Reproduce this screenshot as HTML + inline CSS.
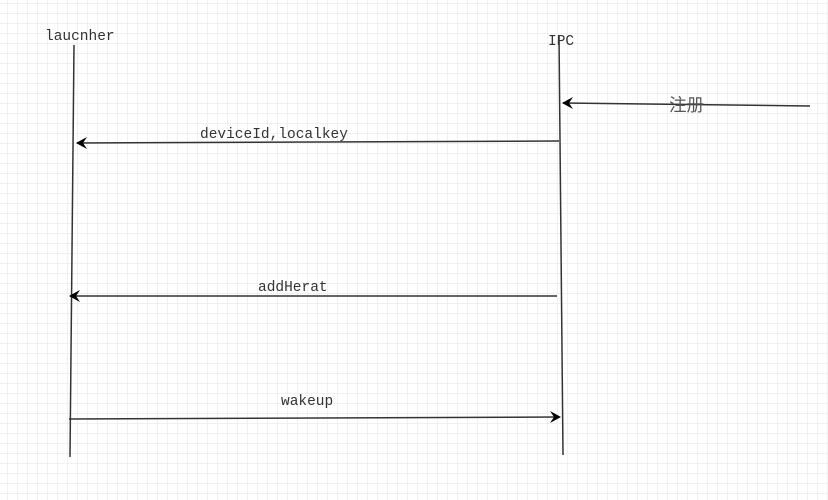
<!DOCTYPE html>
<html><head><meta charset="utf-8"><style>
html,body{margin:0;padding:0;background:#fff;}
svg{display:block;}
text{font-family:"Liberation Mono","Noto Sans CJK SC",monospace;font-size:14.5px;fill:#333;}
</style></head><body>
<svg width="828" height="500" viewBox="0 0 828 500" xmlns="http://www.w3.org/2000/svg">
<defs>
<pattern id="g" x="7" y="3" width="10" height="10" patternUnits="userSpaceOnUse">
<path d="M0 0H10M0 0V10" stroke="#ebebeb" stroke-width="1.5" fill="none"/>
</pattern>
</defs>
<rect width="828" height="500" fill="url(#g)"/>
<g stroke="#333" stroke-width="1.5" fill="none">
<line x1="74" y1="45" x2="70" y2="457"/>
<line x1="559" y1="35" x2="563" y2="455"/>
<line x1="810" y1="106" x2="563" y2="103"/>
<line x1="559" y1="141" x2="77" y2="143"/>
<line x1="557" y1="296" x2="70" y2="296"/>
<line x1="69" y1="419" x2="559" y2="417"/>
</g>
<g fill="#000">
<path d="M562 103 L573 97 L569 103 L573 109 Z"/>
<path d="M76 143 L87 137 L83 143 L87 149 Z"/>
<path d="M69 296 L80 290 L76 296 L80 302 Z"/>
<path d="M561 417 L550 411 L554 417 L550 423 Z"/>
</g>
<text x="45" y="40">laucnher</text>
<text x="548" y="45">IPC</text>
<text x="669" y="111" style="fill:#555;font-size:17.5px">注册</text>
<text x="200" y="138">deviceId,localkey</text>
<text x="258" y="291">addHerat</text>
<text x="281" y="405">wakeup</text>
</svg>
</body></html>
